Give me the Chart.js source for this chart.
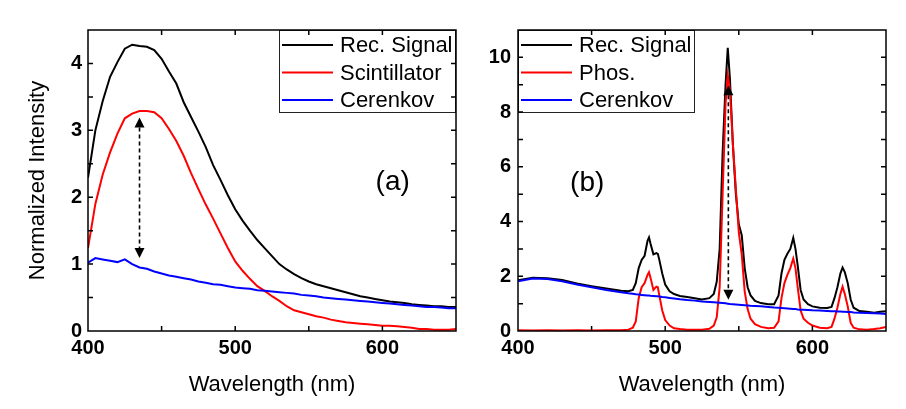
<!DOCTYPE html>
<html><head><meta charset="utf-8">
<script src="https://cdn.jsdelivr.net/npm/chart.js@4.4.0/dist/chart.umd.min.js"></script>
<style>
html,body{margin:0;padding:0;background:#fff;}
#wrap{position:relative;width:906px;height:409px;overflow:hidden;background:#fff;}
#ca{position:absolute;left:0;top:0;width:470px;height:409px;}
#cb{position:absolute;left:460px;top:0;width:446px;height:409px;}
</style></head><body>
<div id="wrap"><canvas id="ca" width="470" height="409"></canvas><canvas id="cb" width="446" height="409"></canvas></div>
<script>
// ---------- Panel (a) data ----------
const aWavelength = [400,405,410,415,420,425,430,435,440,445,450,455,460,465,470,475,480,485,490,495,500,505,510,515,520,525,530,535,540,545,550,555,560,565,570,575,580,585,590,595,600,605,610,615,620,625,630,635,640,645,650];
const aRecSignal = [2.29,3.0,3.44,3.8,4.02,4.22,4.28,4.26,4.25,4.2,4.07,3.88,3.7,3.42,3.2,2.98,2.75,2.48,2.26,2.03,1.82,1.65,1.5,1.36,1.24,1.12,1.0,0.92,0.85,0.79,0.74,0.7,0.67,0.64,0.61,0.58,0.55,0.52,0.5,0.48,0.46,0.44,0.43,0.42,0.4,0.39,0.38,0.37,0.37,0.36,0.36];
const aScintillator = [1.24,1.9,2.34,2.67,2.95,3.18,3.25,3.29,3.29,3.27,3.18,3.02,2.84,2.62,2.36,2.12,1.89,1.68,1.46,1.24,1.04,0.9,0.78,0.67,0.6,0.52,0.45,0.37,0.31,0.28,0.25,0.22,0.2,0.17,0.15,0.13,0.12,0.11,0.1,0.09,0.08,0.08,0.07,0.06,0.05,0.03,0.03,0.02,0.02,0.02,0.03];
const aCerenkov = [1.02,1.09,1.07,1.05,1.03,1.07,1.0,0.95,0.93,0.89,0.86,0.83,0.81,0.79,0.77,0.74,0.72,0.7,0.69,0.67,0.65,0.64,0.63,0.61,0.6,0.59,0.58,0.57,0.56,0.54,0.53,0.52,0.5,0.49,0.48,0.47,0.46,0.45,0.44,0.43,0.42,0.41,0.4,0.39,0.38,0.37,0.36,0.36,0.35,0.34,0.34];
const aLegendLabels = ['Rec. Signal','Scintillator','Cerenkov'];
const aPanelLabel = '(a)';
const aLabelPos = [607, 2.22];
const aArrow = [435, 1.09, 3.19];   // wavelength, bottom, top
const aYTickLabels = [0,1,2,3,4];
const aYTickMarks = [0.5,1,1.5,2,2.5,3,3.5,4];
const aYMax = 4.5;

// ---------- Panel (b) data ----------
const bWavelength = [400,410,420,430,440,450,460,470,475,478,480,482,484,486,488,489,490,492,494,495,496,498,500,503,506,510,515,520,525,530,533,535,537,539,541,542.5,544,546,548,550,552,554,556,558,561,565,570,574,577,579,581,583,585,587,588.5,590,592,594,597,600,605,610,613,615,617,619,620.5,622,624,626,628,632,637,642,646,650];
const bRecSignal = [1.85,1.95,1.93,1.86,1.74,1.64,1.55,1.47,1.45,1.5,1.75,2.3,2.6,2.75,3.3,3.42,3.2,2.8,2.85,2.82,2.6,2.1,1.7,1.45,1.35,1.28,1.24,1.2,1.15,1.2,1.35,1.8,3.0,6.5,9.0,10.35,9.2,6.8,5.0,3.9,3.5,2.3,1.6,1.3,1.1,1.02,0.98,0.98,1.3,2.1,2.6,2.82,3.0,3.4,3.0,2.4,1.5,1.15,0.98,0.9,0.85,0.84,0.88,1.2,1.6,2.1,2.32,2.15,1.75,1.15,0.85,0.73,0.7,0.67,0.7,0.72];
const bPhos = [0.03,0.02,0.03,0.02,0.03,0.02,0.03,0.03,0.05,0.12,0.35,1.2,1.6,1.75,2.05,2.15,1.95,1.5,1.62,1.6,1.3,0.75,0.4,0.2,0.1,0.07,0.05,0.05,0.05,0.08,0.2,0.5,1.6,5.0,8.3,9.35,8.8,6.8,5.2,3.6,2.8,1.45,0.8,0.45,0.25,0.15,0.1,0.12,0.35,1.2,1.75,2.05,2.3,2.65,2.3,1.6,0.75,0.45,0.3,0.2,0.12,0.1,0.15,0.45,0.85,1.35,1.62,1.35,0.9,0.3,0.12,0.06,0.05,0.07,0.1,0.15];
const bCerenkov = [1.82,1.92,1.9,1.82,1.7,1.6,1.5,1.42,1.38,1.36,1.34,1.33,1.32,1.31,1.3,1.3,1.29,1.28,1.27,1.27,1.26,1.24,1.23,1.21,1.19,1.16,1.13,1.11,1.08,1.06,1.05,1.04,1.03,1.02,1.01,1.0,0.99,0.98,0.97,0.96,0.95,0.94,0.93,0.92,0.91,0.9,0.88,0.86,0.85,0.84,0.83,0.82,0.81,0.8,0.8,0.79,0.78,0.78,0.77,0.76,0.75,0.73,0.72,0.72,0.71,0.71,0.7,0.7,0.69,0.69,0.68,0.67,0.66,0.65,0.64,0.62];
const bLegendLabels = ['Rec. Signal','Phos.','Cerenkov'];
const bPanelLabel = '(b)';
const bLabelPos = [447, 5.4];
const bArrow = [542.9, 1.14, 8.98];
const bYTickLabels = [0,2,4,6,8,10];
const bYTickMarks = [1,2,3,4,5,6,7,8,9,10];
const bYMax = 11;

// ---------- shared ----------
const xTickLabels = [400,500,600];
const xTickMarks = [450,500,550,600];
const xMin = 400, xMax = 650;
const seriesColors = ['#000000','#ff0000','#0000ff'];
const FONT = "'Liberation Sans', Arial, sans-serif";

function pts(xs, ys){ return xs.map((x,i)=>({x:x, y:ys[i]})); }

const framePlugin = {
  id: 'frame',
  afterDatasetsDraw(chart, args, o){
    const ctx = chart.ctx;
    const {left,right,top,bottom} = chart.chartArea;
    const xs = chart.scales.x, ys = chart.scales.y;
    ctx.save();
    // arrow
    const ax = xs.getPixelForValue(o.arrow[0]);
    const ab = ys.getPixelForValue(o.arrow[1]);
    const at = ys.getPixelForValue(o.arrow[2]);
    const hh = 10, hw = 5;
    ctx.strokeStyle = '#000'; ctx.fillStyle = '#000';
    ctx.lineWidth = 1.6; ctx.setLineDash([4,3]);
    ctx.beginPath(); ctx.moveTo(ax, at+hh); ctx.lineTo(ax, ab-hh); ctx.stroke();
    ctx.setLineDash([]);
    ctx.beginPath(); ctx.moveTo(ax, at); ctx.lineTo(ax-hw, at+hh); ctx.lineTo(ax+hw, at+hh); ctx.closePath(); ctx.fill();
    ctx.beginPath(); ctx.moveTo(ax, ab); ctx.lineTo(ax-hw, ab-hh); ctx.lineTo(ax+hw, ab-hh); ctx.closePath(); ctx.fill();
    // panel label
    ctx.font = '28px ' + FONT; ctx.textAlign = 'center'; ctx.textBaseline = 'middle';
    ctx.fillText(o.label, xs.getPixelForValue(o.labelPos[0]), ys.getPixelForValue(o.labelPos[1]));
    // legend
    const bw = 177, bh = 83;
    const bx = o.legendRight ? right - bw : left;
    const by = top;
    ctx.fillStyle = '#fff'; ctx.fillRect(bx, by, bw, bh);
    ctx.strokeStyle = '#222'; ctx.lineWidth = 1; ctx.strokeRect(bx+0.5, by+0.5, bw-1, bh-1);
    ctx.font = '22px ' + FONT; ctx.textAlign = 'left'; ctx.textBaseline = 'middle';
    o.legend.forEach((t,i)=>{
      const yy = by + 15 + i*27.5;
      ctx.strokeStyle = seriesColors[i]; ctx.lineWidth = 2;
      ctx.beginPath(); ctx.moveTo(bx+3, yy); ctx.lineTo(bx+54, yy); ctx.stroke();
      ctx.fillStyle = '#000'; ctx.fillText(t, bx+61, yy+1);
    });
    // inward ticks
    ctx.strokeStyle = '#000'; ctx.lineWidth = 1.5;
    const L = 5;
    ctx.beginPath();
    o.xMarks.forEach(v=>{ const p = xs.getPixelForValue(v); ctx.moveTo(p,bottom); ctx.lineTo(p,bottom-L); ctx.moveTo(p,top); ctx.lineTo(p,top+L); });
    o.yMarks.forEach(v=>{ const p = ys.getPixelForValue(v); ctx.moveTo(left,p); ctx.lineTo(left+L,p); ctx.moveTo(right,p); ctx.lineTo(right-L,p); });
    ctx.stroke();
    // frame
    ctx.lineWidth = 1.5;
    ctx.strokeRect(left, top, right-left, bottom-top);
    ctx.restore();
  }
};

function makeChart(id, cfg){
  return new Chart(document.getElementById(id), {
    type: 'scatter',
    data: { datasets: [
      { data: pts(cfg.wl, cfg.s[0]), borderColor: seriesColors[0], order: 3 },
      { data: pts(cfg.wl, cfg.s[1]), borderColor: seriesColors[1], order: 2 },
      { data: pts(cfg.wl, cfg.s[2]), borderColor: seriesColors[2], order: 1 }
    ].map(d=>Object.assign(d, {showLine:true, pointRadius:0, borderWidth:2, tension:0, fill:false})) },
    options: {
      responsive: false, animation: false, events: [],
      layout: { padding: { left: 0, top: 30, right: cfg.padRight, bottom: 0 } },
      plugins: { legend: {display:false}, tooltip: {enabled:false},
        frame: { arrow: cfg.arrow, label: cfg.label, labelPos: cfg.labelPos, legend: cfg.legend, legendRight: cfg.legendRight, xMarks: xTickMarks, yMarks: cfg.yMarks } },
      scales: {
        x: { type: 'linear', min: xMin, max: xMax,
          afterBuildTicks: s => { s.ticks = xTickLabels.map(v=>({value:v})); },
          afterFit: s => { s.height = 78; },
          grid: {display:false, drawTicks:false}, border: {display:false},
          ticks: { font: {family: FONT, size: 20, weight: 'bold'}, color: '#000', padding: 5, maxRotation: 0, autoSkip: false },
          title: { display: true, text: 'Wavelength (nm)', color: '#000', font: {family: FONT, size: 22, lineHeight: 1}, padding: {top: 0, bottom: 13} } },
        y: { type: 'linear', min: 0, max: cfg.yMax,
          afterBuildTicks: s => { s.ticks = cfg.yLabels.map(v=>({value:v})); },
          afterFit: s => { s.width = cfg.yWidth; },
          grid: {display:false, drawTicks:false}, border: {display:false},
          ticks: { font: {family: FONT, size: 20, weight: 'bold'}, color: '#000', padding: cfg.yPad, autoSkip: false },
          title: { display: cfg.yTitle, text: 'Normalized Intensity', color: '#000', font: {family: FONT, size: 22, lineHeight: 1}, padding: {top: 27, bottom: 0} } }
      }
    },
    plugins: [framePlugin]
  });
}

makeChart('ca', { wl: aWavelength, s: [aRecSignal, aScintillator, aCerenkov], yMax: aYMax, yLabels: aYTickLabels, yMarks: aYTickMarks,
  yWidth: 88, padRight: 14, yPad: 6, yTitle: true, arrow: aArrow, label: aPanelLabel, labelPos: aLabelPos, legend: aLegendLabels, legendRight: true });
makeChart('cb', { wl: bWavelength, s: [bRecSignal, bPhos, bCerenkov], yMax: bYMax, yLabels: bYTickLabels, yMarks: bYTickMarks,
  yWidth: 58, padRight: 20, yPad: 7, yTitle: false, arrow: bArrow, label: bPanelLabel, labelPos: bLabelPos, legend: bLegendLabels, legendRight: false });
</script>
</body></html>
